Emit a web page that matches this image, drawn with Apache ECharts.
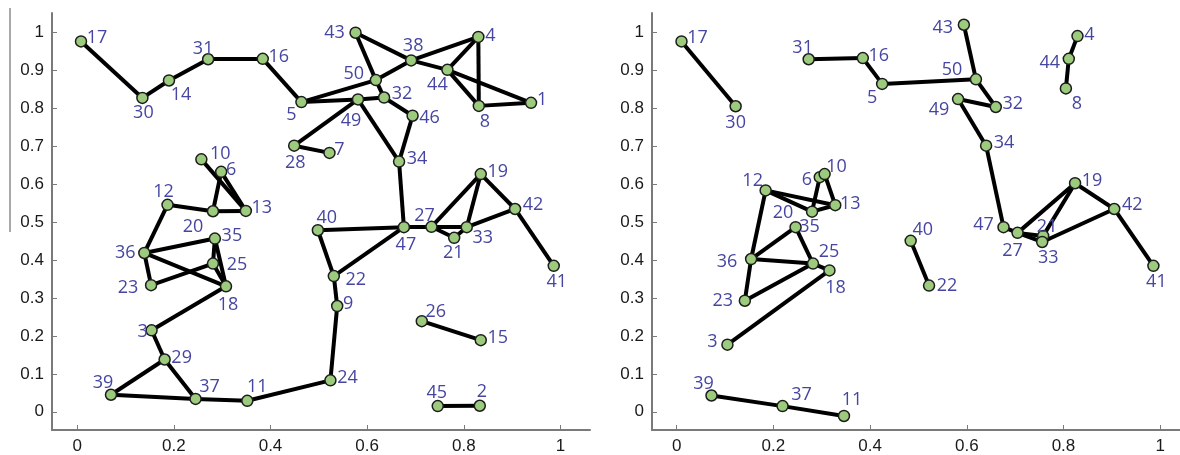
<!DOCTYPE html>
<html><head><meta charset="utf-8">
<script src="https://cdn.jsdelivr.net/npm/echarts@6/dist/echarts.min.js"></script>
<style>html,body{margin:0;padding:0;background:#fff}#c{width:1180px;height:455px}</style>
</head><body><div id="c"></div><script>
// ---- tick labels ----
const xTicks = [0, 0.2, 0.4, 0.6, 0.8, 1];
const yTicks = [0, 0.1, 0.2, 0.3, 0.4, 0.5, 0.6, 0.7, 0.8, 0.9, 1];

// ---- left panel data ----
const leftNames = ['1','2','3','4','5','6','7','8','9','10','11','12','13','14','15','16','17','18','19','20','21','22','23','24','25','26','27','28','29','30','31','32','33','34','35','36','37','38','39','40','41','42','43','44','45','46','47','49','50'];
const leftX = [0.939,0.833,0.154,0.830,0.464,0.298,0.522,0.831,0.538,0.257,0.352,0.187,0.349,0.190,0.835,0.384,0.008,0.308,0.835,0.281,0.780,0.531,0.153,0.524,0.281,0.713,0.733,0.449,0.181,0.135,0.271,0.635,0.806,0.666,0.285,0.139,0.245,0.691,0.070,0.498,0.986,0.906,0.576,0.766,0.746,0.694,0.676,0.581,0.618];
const leftY = [0.815,0.016,0.215,0.989,0.817,0.633,0.683,0.807,0.279,0.666,0.029,0.546,0.530,0.874,0.189,0.931,0.977,0.331,0.627,0.529,0.459,0.358,0.334,0.083,0.391,0.239,0.488,0.702,0.138,0.828,0.930,0.829,0.487,0.660,0.457,0.419,0.034,0.927,0.045,0.479,0.385,0.535,1.000,0.902,0.015,0.781,0.487,0.824,0.875];
const leftEdges = [['17','30'],['30','14'],['14','31'],['31','16'],['16','5'],['5','50'],['5','49'],['49','32'],['43','50'],['43','38'],['50','38'],['50','32'],['38','4'],['38','44'],['44','1'],['44','4'],['44','8'],['4','8'],['8','1'],['32','46'],['46','34'],['49','34'],['49','28'],['28','7'],['34','47'],['10','13'],['6','13'],['6','20'],['12','20'],['20','13'],['12','36'],['36','35'],['36','23'],['36','18'],['35','25'],['35','18'],['23','25'],['25','18'],['18','3'],['3','29'],['29','39'],['29','37'],['39','37'],['37','11'],['11','24'],['24','9'],['9','22'],['22','40'],['22','47'],['40','47'],['47','27'],['27','21'],['21','33'],['27','33'],['27','19'],['19','33'],['19','42'],['33','42'],['42','41'],['26','15'],['45','2']];

// ---- right panel data ----
const rightNames = ['3','4','5','6','8','10','11','12','13','16','17','18','19','20','21','22','23','25','27','30','31','32','33','34','35','36','37','39','40','41','42','43','44','47','49','50'];
const rightX = [0.105,0.829,0.425,0.296,0.805,0.306,0.346,0.184,0.328,0.385,0.010,0.316,0.824,0.280,0.758,0.522,0.141,0.282,0.705,0.122,0.273,0.660,0.756,0.640,0.246,0.154,0.219,0.072,0.484,0.986,0.905,0.594,0.811,0.676,0.582,0.619];
const rightY = [0.177,0.991,0.865,0.619,0.853,0.627,-0.011,0.584,0.545,0.933,0.977,0.373,0.603,0.528,0.464,0.333,0.293,0.391,0.472,0.806,0.930,0.804,0.448,0.702,0.487,0.403,0.015,0.043,0.451,0.385,0.535,1.021,0.931,0.487,0.825,0.877];
const rightEdges = [['17','30'],['31','16'],['16','5'],['5','50'],['43','50'],['50','32'],['49','32'],['49','34'],['34','47'],['47','27'],['4','44'],['44','8'],['27','21'],['27','33'],['21','33'],['27','19'],['21','19'],['19','42'],['33','42'],['42','41'],['40','22'],['12','20'],['12','13'],['20','13'],['20','6'],['6','10'],['10','13'],['12','36'],['36','35'],['35','25'],['36','25'],['25','18'],['23','25'],['23','36'],['18','3'],['39','37'],['37','11']];

// ---- label placement (style: pixel offset of label centre from node) ----
const leftLabelOffset = {
  '17':[16,-4],'30':[1,15],'14':[12,14],'31':[-5,-10],'16':[16,-2],'5':[-10,13],'28':[1,17],'7':[10,-3],
  '10':[19,-5],'6':[10,-2],'12':[-4,-13],'20':[-20,16],'13':[16,-3],'43':[-21,0],'38':[2,-15],'4':[12,-1],
  '50':[-22,-6],'44':[-10,15],'32':[18,-4],'49':[-7,21],'46':[17,2],'8':[6,16],'1':[11,-3],'34':[18,-3],
  '19':[17,-2],'42':[18,-4],'40':[9,-12],'27':[-7,-11],'47':[2,18],'21':[-1,15],'33':[16,11],'41':[3,16],
  '22':[22,4],'9':[11,-2],'26':[14,-9],'15':[17,-2],'24':[17,-2],'45':[-1,-13],'2':[2,-14],'35':[17,-3],
  '36':[-19,0],'25':[24,1],'23':[-23,3],'18':[2,19],'3':[-9,2],'29':[17,-2],'39':[-8,-12],'37':[14,-12],'11':[10,-14]
};
const rightLabelOffset = {
  '17':[16,-4],'30':[0,17],'31':[-6,-11],'16':[16,-2],'5':[-10,14],'12':[-13,-10],'6':[-13,3],'10':[12,-7],
  '20':[-29,1],'13':[15,-1],'35':[14,0],'43':[-21,3],'50':[-24,-9],'49':[-19,11],'32':[17,-3],'4':[12,-1],
  '44':[-19,4],'8':[11,15],'34':[18,-3],'19':[17,-2],'42':[18,-4],'47':[-20,-2],'40':[12,-11],'22':[18,0],
  '27':[-5,18],'21':[4,-9],'33':[6,16],'41':[3,16],'36':[-24,3],'25':[16,-12],'18':[6,17],'23':[-22,0],
  '3':[-15,-3],'39':[-8,-12],'37':[19,-11],'11':[8,-16]
};

function buildNodes(names, xs, ys, offs) {
  return names.map((n, i) => ({ name: n, value: [xs[i], ys[i]], label: { offset: offs[n] || [14, 0] } }));
}
function buildLinks(edges) { return edges.map(e => ({ source: e[0], target: e[1] })); }

const fmt = v => String(+Number(v).toFixed(1));
const axisCommon = {
  type: 'value',
  axisLine: { show: true, onZero: false, lineStyle: { color: '#7a7a7a', width: 2 } },
  axisTick: { show: true, inside: true, length: 5, lineStyle: { color: '#7a7a7a', width: 1 } },
  splitLine: { show: false },
  axisLabel: { color: '#1a1a1a', fontFamily: 'Liberation Sans, Arial, sans-serif', fontSize: 17, formatter: fmt }
};
function xAxisFor(grid, min, max) {
  return Object.assign({}, axisCommon, {
    gridIndex: grid, min: min, max: max,
    axisTick: Object.assign({}, axisCommon.axisTick, { customValues: xTicks }),
    axisLabel: Object.assign({}, axisCommon.axisLabel, { customValues: xTicks, margin: 8 })
  });
}
function yAxisFor(grid) {
  return Object.assign({}, axisCommon, {
    gridIndex: grid, min: -0.048, max: 1.052,
    axisTick: Object.assign({}, axisCommon.axisTick, { customValues: yTicks }),
    axisLabel: Object.assign({}, axisCommon.axisLabel, { customValues: yTicks, margin: 8 })
  });
}
function graphSeries(idx, nodes, links) {
  return {
    type: 'graph', layout: 'none', coordinateSystem: 'cartesian2d',
    xAxisIndex: idx, yAxisIndex: idx, silent: true,
    symbol: 'circle', symbolSize: 11,
    itemStyle: { color: '#9dcb7e', borderColor: '#1c1c1c', borderWidth: 1.5 },
    lineStyle: { color: '#000', width: 4, opacity: 1, curveness: 0 },
    label: { show: true, position: 'inside', formatter: '{b}', color: '#4646a2',
             fontFamily: 'Open Sans, Noto Sans, sans-serif', fontSize: 18 },
    emphasis: { disabled: true },
    data: nodes, links: links
  };
}

const chart = echarts.init(document.getElementById('c'), null, { renderer: 'canvas' });
chart.setOption({
  animation: false,
  backgroundColor: '#ffffff',
  grid: [
    { left: 52, top: 13, width: 538, height: 417 },
    { left: 652, top: 13, width: 528, height: 417 }
  ],
  xAxis: [xAxisFor(0, -0.052, 1.061), xAxisFor(1, -0.051, 1.041)],
  yAxis: [yAxisFor(0), yAxisFor(1)],
  graphic: [{ type: 'line', shape: { x1: 10, y1: 8, x2: 10, y2: 232 }, style: { stroke: '#555', lineWidth: 1 }, silent: true }],
  series: [
    graphSeries(0, buildNodes(leftNames, leftX, leftY, leftLabelOffset), buildLinks(leftEdges)),
    graphSeries(1, buildNodes(rightNames, rightX, rightY, rightLabelOffset), buildLinks(rightEdges))
  ]
});
</script></body></html>
